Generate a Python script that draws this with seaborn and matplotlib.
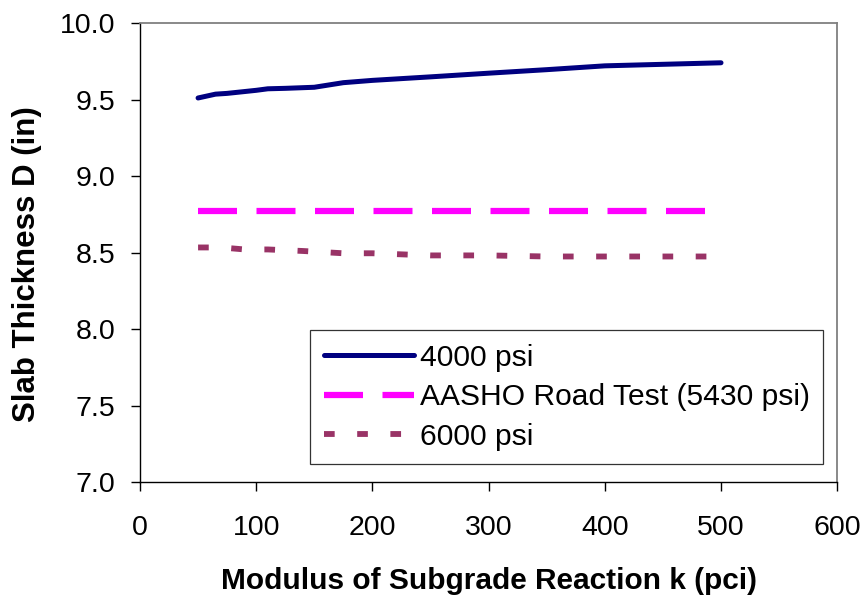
import numpy as np
import matplotlib
matplotlib.use("Agg")
import matplotlib.pyplot as plt
import seaborn as sns

# 4000 psi concrete
k_4000 = [50, 65, 75, 100, 110, 125, 150, 175, 200, 250, 300, 350, 400, 450, 500]
d_4000 = [9.51, 9.535, 9.54, 9.56, 9.57, 9.573, 9.58, 9.61, 9.625, 9.648, 9.672, 9.695, 9.72, 9.73, 9.74]

# AASHO Road Test (5430 psi)
k_aasho = [50, 100, 200, 300, 400, 500]
d_aasho = [8.77, 8.77, 8.77, 8.77, 8.77, 8.77]

# 6000 psi concrete
k_6000 = [50, 70, 90, 110, 140, 175, 200, 250, 300, 350, 400, 450, 500]
d_6000 = [8.533, 8.533, 8.52, 8.52, 8.51, 8.495, 8.495, 8.481, 8.481, 8.474, 8.474, 8.474, 8.474]

sns.set_style("ticks")
plt.rcParams['font.family'] = ['Liberation Sans', 'DejaVu Sans']
plt.rcParams['text.color'] = 'black'
plt.rcParams['axes.labelcolor'] = 'black'

fig = plt.figure(figsize=(8.64, 5.99), dpi=100)
ax = fig.add_axes([0.162, 0.1953, 0.807, 0.7663])

sns.lineplot(x=k_4000, y=d_4000, ax=ax, color="#000080", linewidth=3.6,
             label="4000 psi", solid_capstyle="round")
sns.lineplot(x=k_aasho, y=d_aasho, ax=ax, color="#FF00FF", linewidth=4.5,
             linestyle=(0, (6.24, 3.12)), label="AASHO Road Test (5430 psi)")
sns.lineplot(x=k_6000, y=d_6000, ax=ax, color="#993366", linewidth=4.2,
             linestyle=(0, (1.83, 3.86)), label="6000 psi")

ax.set_xlim(0, 600)
ax.set_ylim(7.0, 10.0)
ax.set_xticks(np.arange(0, 601, 100))
yt = np.arange(7.0, 10.01, 0.5)
ax.set_yticks(yt)
ax.set_yticklabels([f"{v:.1f}" for v in yt])
ax.tick_params(axis="both", labelsize=20.5, length=6.5, width=1, colors="black")
ax.tick_params(axis="y", pad=11)
ax.tick_params(axis="x", pad=17)
for s in ["left", "bottom"]:
    ax.spines[s].set_color("black")
    ax.spines[s].set_linewidth(1)
for s in ["top", "right"]:
    ax.spines[s].set_color("#808080")
    ax.spines[s].set_linewidth(1.3)

ax.set_xlabel("Modulus of Subgrade Reaction k (pci)", fontsize=21.5,
              fontweight="bold")
ax.set_ylabel("Slab Thickness D (in)", fontsize=22.5, fontweight="bold")
ax.xaxis.set_label_coords(0.501, -0.185)
ax.yaxis.set_label_coords(-0.141, 0.475)

leg = ax.legend(loc="lower right", bbox_to_anchor=(0.98, 0.039), fontsize=21.6,
                handlelength=3.0, frameon=True, fancybox=False,
                edgecolor="black", borderpad=0.45, labelspacing=0.38,
                handletextpad=0.2, borderaxespad=0)
leg.get_frame().set_linewidth(0.9)
for t in leg.get_texts():
    t.set_color("black")

fig.savefig("out.png", dpi=100)
